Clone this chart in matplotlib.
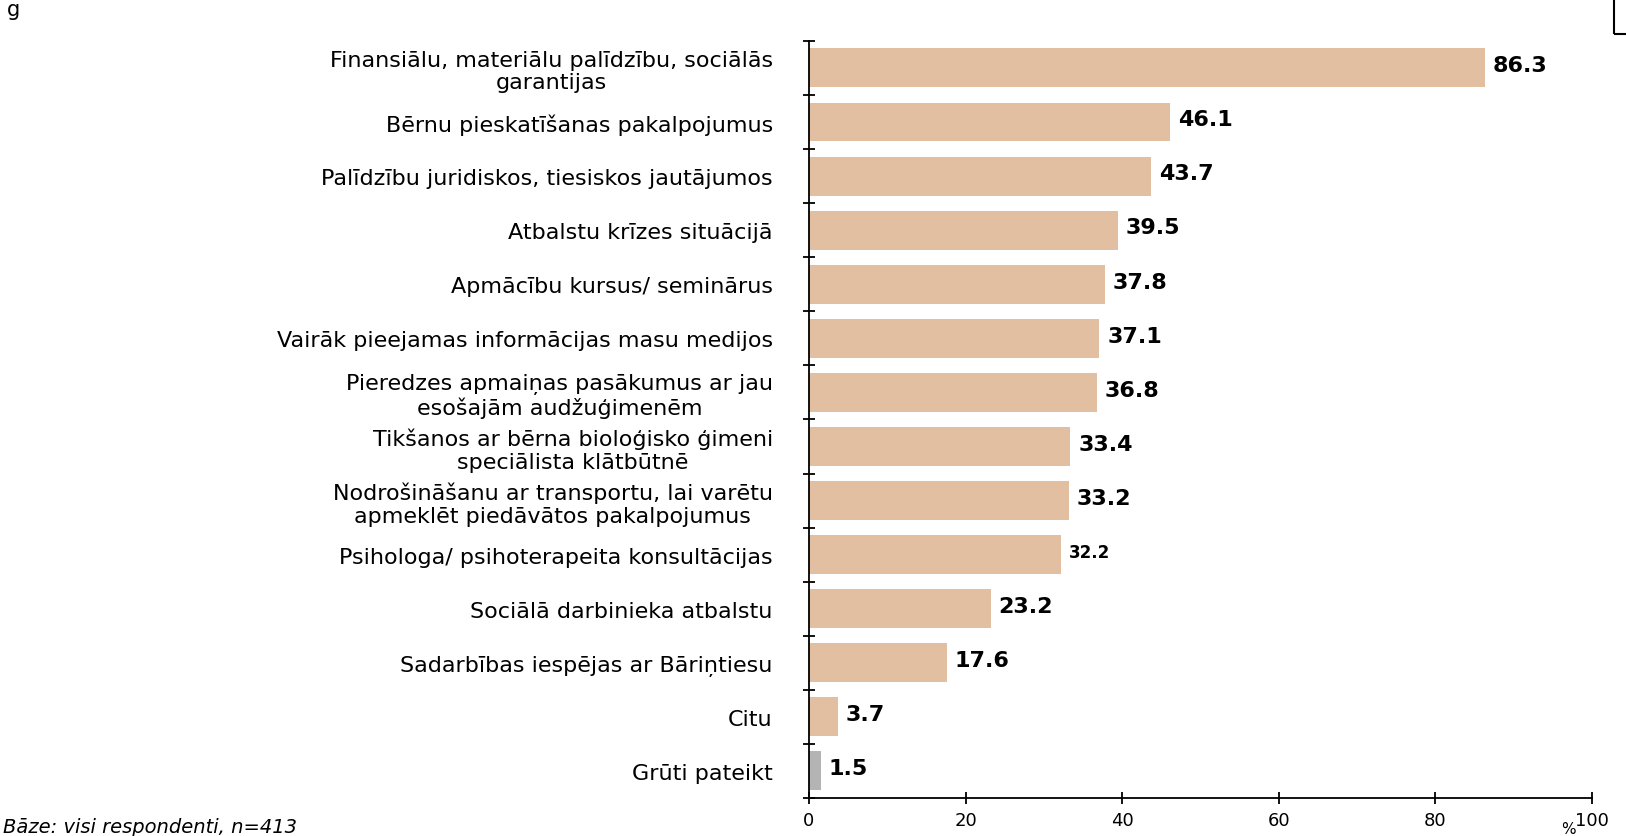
import numpy as np
import matplotlib.pyplot as plt
from matplotlib.patches import Rectangle

labels = [
    "Finansiālu, materiālu palīdzību, sociālās\ngarantijas",
    "Bērnu pieskatīšanas pakalpojumus",
    "Palīdzību juridiskos, tiesiskos jautājumos",
    "Atbalstu krīzes situācijā",
    "Apmācību kursus/ seminārus",
    "Vairāk pieejamas informācijas masu medijos",
    "Pieredzes apmaiņas pasākumus ar jau\nesošajām audžuģimenēm",
    "Tikšanos ar bērna bioloģisko ģimeni\nspeciālista klātbūtnē",
    "Nodrošināšanu ar transportu, lai varētu\napmeklēt piedāvātos pakalpojumus",
    "Psihologa/ psihoterapeita konsultācijas",
    "Sociālā darbinieka atbalstu",
    "Sadarbības iespējas ar Bāriņtiesu",
    "Citu",
    "Grūti pateikt",
]
values = [86.3, 46.1, 43.7, 39.5, 37.8, 37.1, 36.8, 33.4, 33.2, 32.2, 23.2, 17.6, 3.7, 1.5]
xticks = [0, 20, 40, 60, 80, 100]

plt.rcParams['font.family'] = ['DejaVu Sans']

fig = plt.figure(figsize=(16.26, 8.37), dpi=100)
ax = fig.add_axes([0.4975, 0.0454, 0.4815, 0.9046])

n = len(values)
y = np.arange(n)
colors = ["#E2BFA0"] * (n - 1) + ["#B4B4B4"]
ax.barh(y, values, height=0.72, color=colors)

ax.set_ylim(n - 0.5, -0.5)
ax.set_xlim(0, 100)

ax.set_yticks(y)
ax.set_yticklabels(labels, fontsize=16, linespacing=1.15, multialignment='center')
ax.tick_params(axis='y', which='major', length=0, pad=26)
ax.set_yticks(np.arange(n + 1) - 0.5, minor=True)
ax.tick_params(axis='y', which='minor', length=9, direction='inout', width=1.3)

ax.set_xticks(xticks)
ax.set_xticklabels([str(t) for t in xticks], fontsize=13)
ax.tick_params(axis='x', length=8, direction='inout', width=1.3, pad=5)

for s in ['top', 'right']:
    ax.spines[s].set_visible(False)
for s in ['left', 'bottom']:
    ax.spines[s].set_linewidth(1.3)

for i, v in enumerate(values):
    fs = 12 if v == 32.2 else 16
    ax.text(v + 1.0, i - 0.05, f"{v:.1f}", va='center', ha='left',
            fontsize=fs, fontweight='bold')

fig.text(0.9643, 0.0, "%", fontsize=11, ha='center', va='bottom')
fig.text(0.002, 0.0, "Bāze: visi respondenti, n=413", fontsize=14,
         style='italic', ha='left', va='bottom')
fig.text(0.004, 1.0, "g", fontsize=15, ha='left', va='top')
fig.patches.append(Rectangle((0.9925, 0.958), 0.02, 0.05, transform=fig.transFigure,
                             fill=False, edgecolor='black', linewidth=1.5))

fig.savefig("out.png", dpi=100)
